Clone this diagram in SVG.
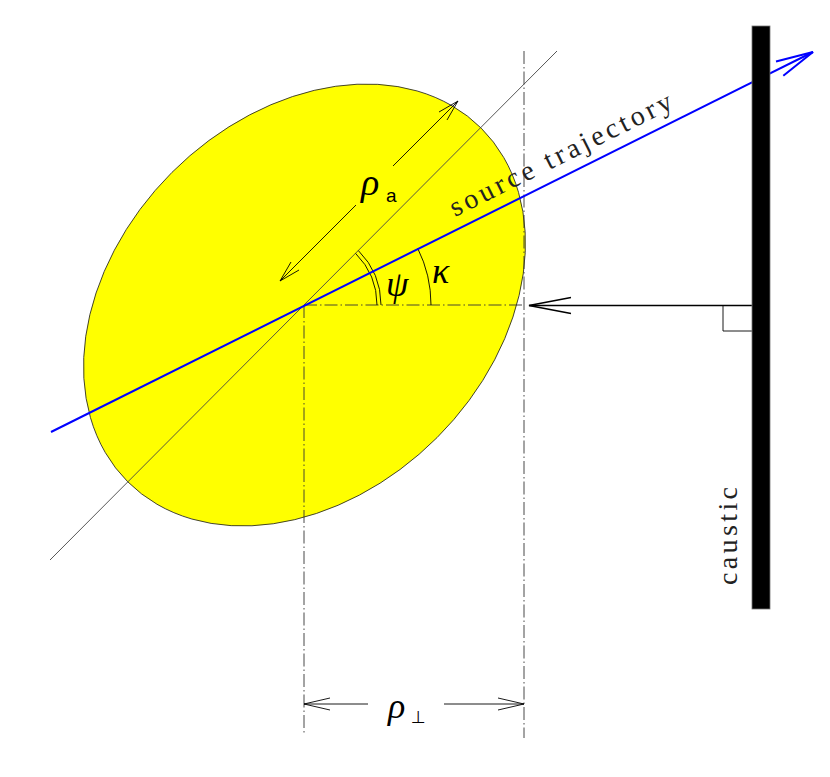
<svg xmlns="http://www.w3.org/2000/svg" width="830" height="777" viewBox="0 0 830 777">
<style>
.thin{fill:none;stroke:#000;stroke-width:0.9}
.dd{fill:none;stroke:#333;stroke-width:0.9;stroke-dasharray:13,3,1.5,3}
.arr{fill:none;stroke:#000;stroke-width:0.9}
.lbl{font-family:'Liberation Serif','DejaVu Serif',serif;font-style:italic;fill:#000}
.txt{font-family:'Liberation Serif','DejaVu Serif',serif;fill:#222}
</style>
<rect width="830" height="777" fill="#fff"/>
<g id="lens">
<ellipse cx="304.5" cy="305" rx="250" ry="187.5" transform="rotate(-45 304.5 305)" fill="#ffff00" stroke="#222" stroke-width="0.8"/>
</g>
<g id="connectors">
<line x1="50" y1="560" x2="557" y2="51" stroke="#444" stroke-width="0.9"/>
<line class="dd" x1="304" y1="305" x2="524" y2="305"/>
<line class="dd" x1="304" y1="305" x2="304" y2="735"/>
<line class="dd" x1="524" y1="51" x2="524" y2="738"/>
<g id="rho-a-arrow">
<line class="arr" x1="393" y1="166" x2="458" y2="101"/>
<path class="arr" d="M439,112 L458,101 L447,120"/>
<line class="arr" x1="356" y1="205" x2="280" y2="281"/>
<path class="arr" d="M291,262 L280,281 L299,270"/>
</g>
<g id="angles">
<path class="thin" d="M377,305 A73,73 0 0 0 355.6,253.4"/>
<path class="thin" d="M381,305 A77,77 0 0 0 358.4,250.6"/>
<path class="thin" d="M431,305 A127,127 0 0 0 417.7,248.3"/>
</g>
<g id="trajectory">
<line x1="51" y1="432" x2="813" y2="52" stroke="#0000ff" stroke-width="2"/>
<path d="M776,61.5 L813,52 L783.3,75.7" fill="none" stroke="#0000ff" stroke-width="2"/>
</g>
<g id="normal-arrow">
<line x1="752" y1="305.5" x2="529" y2="305.5" stroke="#000" stroke-width="1.6"/>
<path d="M571,297.5 L529,305.5 L571,313.5" fill="none" stroke="#000" stroke-width="1.6"/>
<path class="thin" d="M752,305.5 L723,305.5 L723,331 L752,331"/>
</g>
<g id="rho-perp-arrow">
<line class="arr" x1="304" y1="704" x2="368" y2="704"/>
<path class="arr" d="M330,698 L304,704 L330,710"/>
<line class="arr" x1="444" y1="704" x2="524" y2="704"/>
<path class="arr" d="M498,698 L524,704 L498,710"/>
</g>
</g>
<g id="caustic">
<rect x="752" y="26" width="18" height="583" fill="#000" stroke="#777" stroke-width="0.8"/>
<text class="txt" font-size="28" transform="translate(737,585) rotate(-90)" textLength="98" lengthAdjust="spacing">caustic</text>
</g>
<g id="labels">
<text class="txt" font-size="28" transform="translate(455,217) rotate(-26.5)" textLength="245" lengthAdjust="spacing">source trajectory</text>
<text class="lbl" font-size="38" x="361" y="195">ρ</text>
<text font-family="'Liberation Sans',sans-serif" font-size="19" x="386" y="202">a</text>
<text class="lbl" font-size="36" x="386" y="296">ψ</text>
<text class="lbl" font-size="36" x="432" y="283">κ</text>
<text class="lbl" font-size="36" x="388" y="718">ρ</text>
<text font-family="'DejaVu Sans',sans-serif" font-size="17" x="411" y="723">⊥</text>
</g>
</svg>
